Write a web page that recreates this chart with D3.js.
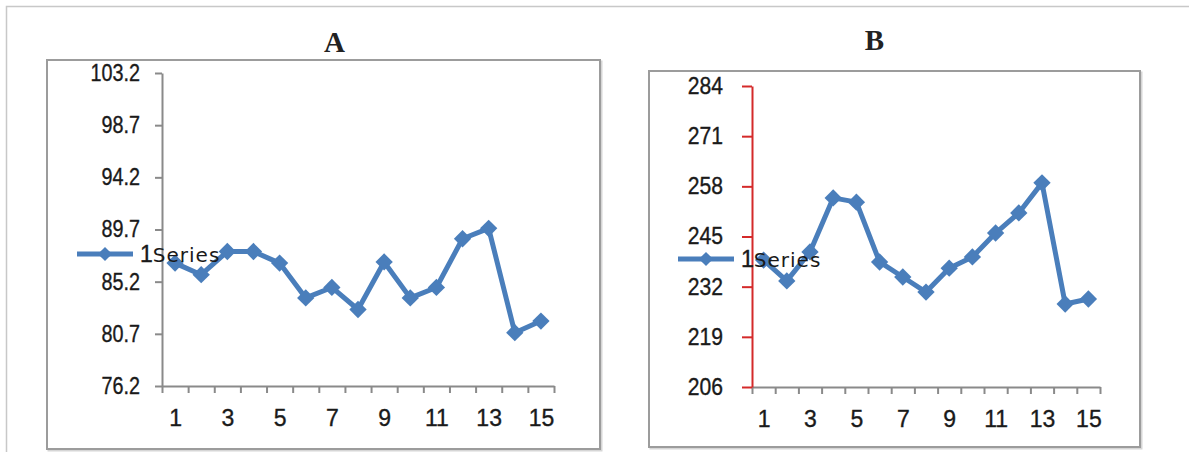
<!DOCTYPE html>
<html>
<head>
<meta charset="utf-8">
<script src="https://cdn.jsdelivr.net/npm/d3@7"></script>
<style>
  body { margin: 0; background: #fff; }
  .tick text { font-family: "Liberation Sans", Arial, sans-serif; fill: #1a1a1a; stroke: #1a1a1a; stroke-width: 0.35px; }
</style>
</head>
<body>
<svg id="chart" width="1189" height="452"></svg>
<script>
// data
var categories = [1, 2, 3, 4, 5, 6, 7, 8, 9, 10, 11, 12, 13, 14, 15]
var xTickLabels = [1, 3, 5, 7, 9, 11, 13, 15]

var seriesA = [86.8, 85.8, 87.8, 87.8, 86.8, 83.8, 84.7, 82.8, 86.9, 83.8, 84.7, 88.9, 89.8, 80.8, 81.8]
var ticksA = [76.2, 80.7, 85.2, 89.7, 94.2, 98.7, 103.2]

var seriesB = [238.9, 233.5, 241.0, 255.0, 253.9, 238.4, 234.5, 230.6, 236.8, 239.7, 245.9, 251.1, 258.9, 227.5, 228.8]
var ticksB = [206, 219, 232, 245, 258, 271, 284]

var legendLabel = '1Series'
var blue = '#4a7ebb'

var svg = d3.select('#chart')

// outer frame (only top and left edges show)
svg.append('path')
  .attr('d', 'M6.5,452V6.5H1189')
  .attr('fill', 'none')
  .attr('stroke', '#c8c8c8')
  .attr('stroke-width', 1.5)

var panels = [
  {title: 'A', titleX: 334.5, titleY: 52, box: [47, 60, 600, 449],
   values: seriesA, ticks: ticksA,
   x0: 162, x1: 554, yTop: 73, yBot: 386, yTick: 7, yPad: 15, yAxisColor: '#8a8a8a', sx: 0.86,
   legend: {x: 77, y: 254, w: 56}},
  {title: 'B', titleX: 874.5, titleY: 50, box: [649, 71, 1140, 447],
   values: seriesB, ticks: ticksB,
   x0: 752, x1: 1100, yTop: 86, yBot: 387, yTick: 10, yPad: 19, yAxisColor: '#d42a2a', sx: 0.92,
   legend: {x: 678, y: 259, w: 56}}
]

panels.forEach(drawPanel)

function drawPanel(p) {
  var g = svg.append('g')
  var b = p.box

  // panel box with a soft shadow
  g.append('rect')
    .attr('x', b[0] + 1.5).attr('y', b[1] + 1.5)
    .attr('width', b[2] - b[0]).attr('height', b[3] - b[1])
    .attr('fill', 'none').attr('stroke', '#d6d6d6').attr('stroke-width', 2)
  g.append('rect')
    .attr('x', b[0]).attr('y', b[1])
    .attr('width', b[2] - b[0]).attr('height', b[3] - b[1])
    .attr('fill', '#fff').attr('stroke', '#9c9c9c').attr('stroke-width', 2)

  g.append('text')
    .attr('x', p.titleX).attr('y', p.titleY)
    .attr('text-anchor', 'middle')
    .style('font-family', '"Liberation Serif", "Times New Roman", serif')
    .style('font-weight', 'bold')
    .style('font-size', '29px')
    .attr('fill', '#222')
    .text(p.title)

  var x = d3.scaleLinear().domain([0.5, categories.length + 0.5]).range([p.x0, p.x1])
  var y = d3.scaleLinear().domain([p.ticks[0], p.ticks[p.ticks.length - 1]]).range([p.yBot, p.yTop])

  // x axis: tick marks between categories, labels on odd categories
  var bounds = categories.map(function(c){ return c - 0.5 }).concat([categories.length + 0.5])
  var xa = g.append('g')
    .attr('transform', 'translate(0,' + p.yBot + ')')
    .call(d3.axisBottom(x).tickValues(bounds).tickFormat('').tickSize(7).tickSizeOuter(0))
  xa.selectAll('line, path').attr('stroke', '#8a8a8a').attr('stroke-width', 2)

  var xl = g.append('g')
    .attr('transform', 'translate(0,' + p.yBot + ')')
    .call(d3.axisBottom(x).tickValues(xTickLabels).tickSize(0).tickPadding(24))
  xl.select('.domain').remove()
  xl.selectAll('text').style('font-size', '23px')

  // y axis
  var ya = g.append('g')
    .attr('transform', 'translate(' + p.x0 + ',0)')
    .call(d3.axisLeft(y).tickValues(p.ticks).tickSize(p.yTick).tickPadding(p.yPad).tickSizeOuter(0)
      .tickFormat(function(d){ return String(d) }))
  ya.selectAll('line, path').attr('stroke', p.yAxisColor).attr('stroke-width', 2)
  // labels are narrow in the original, squeeze them horizontally
  ya.selectAll('text')
    .style('font-size', '23px')
    .attr('x', -(p.yTick + p.yPad) / p.sx)
    .attr('transform', 'scale(' + p.sx + ',1)')

  // series
  var line = d3.line()
    .x(function(d, i){ return x(categories[i]) })
    .y(function(d){ return y(d) })

  g.append('path')
    .attr('d', line(p.values))
    .attr('fill', 'none')
    .attr('stroke', blue)
    .attr('stroke-width', 5)
    .attr('stroke-linejoin', 'round')

  var diamond = d3.symbol().type(d3.symbolSquare).size(150)
  g.selectAll('.pt').data(p.values).enter().append('path')
    .attr('class', 'pt')
    .attr('d', diamond)
    .attr('transform', function(d, i){ return 'translate(' + x(categories[i]) + ',' + y(d) + ') rotate(45)' })
    .attr('fill', blue)

  // legend, sitting over the plot as in the original
  var L = p.legend
  g.append('line')
    .attr('x1', L.x).attr('x2', L.x + L.w)
    .attr('y1', L.y).attr('y2', L.y)
    .attr('stroke', blue).attr('stroke-width', 5)
  g.append('path')
    .attr('d', d3.symbol().type(d3.symbolSquare).size(100))
    .attr('transform', 'translate(' + (L.x + L.w / 2) + ',' + L.y + ') rotate(45)')
    .attr('fill', blue)
  var t = g.append('text')
    .attr('x', L.x + L.w + 7).attr('y', L.y + 8)
    .attr('fill', '#1a1a1a')
  t.append('tspan')
    .style('font-family', '"Liberation Sans", Arial, sans-serif')
    .style('font-size', '23px')
    .attr('stroke', '#1a1a1a').attr('stroke-width', 0.4)
    .text(legendLabel.slice(0, 1))
  t.append('tspan')
    .style('font-family', '"DejaVu Sans", Verdana, sans-serif')
    .style('font-size', '20px')
    .style('letter-spacing', '1px')
    .text(legendLabel.slice(1))
}
</script>
</body>
</html>
